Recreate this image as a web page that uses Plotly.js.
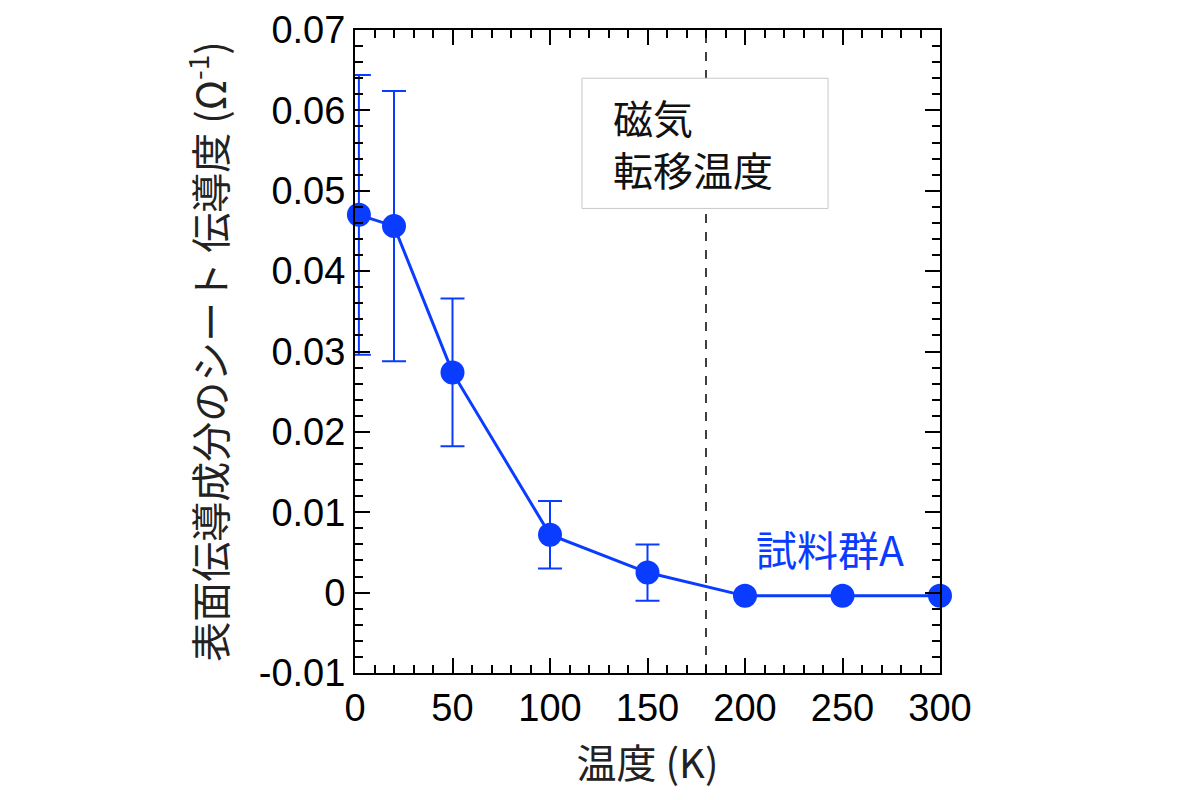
<!DOCTYPE html>
<html>
<head>
<meta charset="utf-8">
<script src="https://cdn.plot.ly/plotly-3.0.1.min.js"></script>
<style>html,body{margin:0;padding:0;background:#fff;}#chart{width:1200px;height:800px;}</style>
</head>
<body>
<div id="chart"></div>
<script>
// Data
const temperatureK = [2, 20, 50, 100, 150, 200, 250, 300];
const sheetConductance = [0.047, 0.0456, 0.0274, 0.0072, 0.0025, -0.0004, -0.0004, -0.0004];
const errorValues = [0.0174, 0.0168, 0.0092, 0.0042, 0.0035, 0, 0, 0];
const transitionTemp = 180;
const yTickValues = [-0.01, 0, 0.01, 0.02, 0.03, 0.04, 0.05, 0.06, 0.07];
const yTickLabels = ["-0.01", "0", "0.01", "0.02", "0.03", "0.04", "0.05", "0.06", "0.07"];
const seriesLabel = "試料群A";
const boxLines = ["磁気", "転移温度"];
const xTitle = "温度 (K)";
const yTitle = "表面伝導成分のシート 伝導度 (Ω<sup>-1</sup>)";

const blue = "#0a3cff";
const numFont = "Liberation Sans, Arial, sans-serif";
const jpFont = "Noto Sans CJK JP, sans-serif";

const trace = {
  x: temperatureK,
  y: sheetConductance,
  type: "scatter",
  mode: "lines+markers",
  line: {color: blue, width: 3},
  marker: {color: blue, size: 24},
  cliponaxis: false,
  error_y: {type: "data", array: errorValues, visible: true, color: blue, thickness: 2, width: 12},
  showlegend: false
};

const axisCommon = {
  showgrid: false,
  zeroline: false,
  showline: true,
  linecolor: "#000",
  linewidth: 2,
  mirror: "allticks",
  ticks: "inside",
  ticklen: 15,
  tickwidth: 2,
  tickcolor: "#000",
  tickfont: {family: numFont, size: 38, color: "#000"}
};

const layout = {
  width: 1200,
  height: 800,
  paper_bgcolor: "#fff",
  plot_bgcolor: "#fff",
  margin: {l: 355, r: 260, t: 30, b: 127},
  xaxis: Object.assign({}, axisCommon, {
    range: [0, 300],
    tick0: 0, dtick: 50,
    minor: {dtick: 10, ticks: "inside", ticklen: 8, tickwidth: 2, tickcolor: "#000"},
    title: {text: xTitle, font: {family: jpFont, size: 40, color: "#222"}, standoff: 22}
  }),
  yaxis: Object.assign({}, axisCommon, {
    range: [-0.01, 0.07],
    tickmode: "array",
    tickvals: yTickValues,
    ticktext: yTickLabels,
    minor: {dtick: 0.002, tick0: 0, ticks: "inside", ticklen: 8, tickwidth: 2, tickcolor: "#000"},
    title: {text: yTitle, font: {family: jpFont, size: 40, color: "#222"}, standoff: 20}
  }),
  shapes: [
    {type: "line", xref: "x", yref: "paper", x0: transitionTemp, x1: transitionTemp, y0: 0, y1: 1,
     line: {color: "#000", width: 1.5, dash: "dash"}, layer: "below"},
    {type: "rect", xref: "x", yref: "y", x0: 116.4, x1: 242.6, y0: 0.0478, y1: 0.064,
     line: {color: "#c8c8c8", width: 1}, fillcolor: "#fff", layer: "above"}
  ],
  annotations: [
    {xref: "x", yref: "y", x: 131.5, y: 0.0559, xanchor: "left", yanchor: "middle", align: "left",
     text: boxLines.join("<br>"), showarrow: false, font: {family: jpFont, size: 40, color: "#111"}},
    {xref: "x", yref: "y", x: 243.5, y: 0.0056, xanchor: "center", yanchor: "middle",
     text: seriesLabel, showarrow: false, font: {family: jpFont, size: 41, color: blue}}
  ]
};

Plotly.newPlot("chart", [trace], layout, {displayModeBar: false, staticPlot: true});
</script>
</body>
</html>
